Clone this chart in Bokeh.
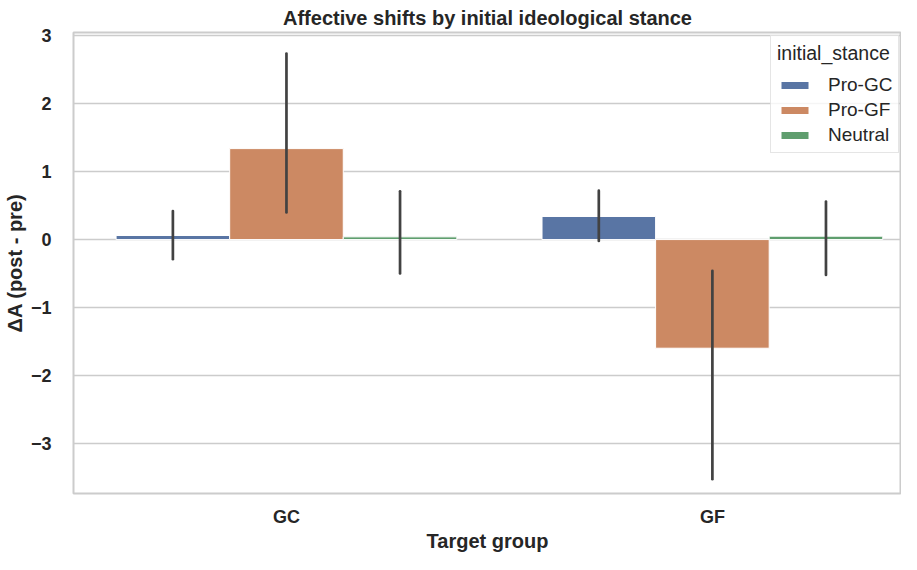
from bokeh.plotting import figure
from bokeh.models import ColumnDataSource, FixedTicker, Legend, LegendItem, Range1d
from bokeh.embed import file_html
from bokeh.resources import INLINE

groups = ["GC", "GF"]
stances = ["Pro-GC", "Pro-GF", "Neutral"]
colors = ["#5975a4", "#cc8963", "#5f9e6e"]

mean_pro_gc = [0.06, 0.34]
mean_pro_gf = [1.34, -1.60]
mean_neutral = [0.04, 0.05]

low_pro_gc = [-0.29, -0.02]
high_pro_gc = [0.42, 0.72]
low_pro_gf = [0.40, -3.53]
high_pro_gf = [2.74, -0.46]
low_neutral = [-0.50, -0.52]
high_neutral = [0.71, 0.56]

y_ticks = [-3, -2, -1, 0, 1, 2, 3]

means = [mean_pro_gc, mean_pro_gf, mean_neutral]
lows = [low_pro_gc, low_pro_gf, low_neutral]
highs = [high_pro_gc, high_pro_gf, high_neutral]

FONT = "Liberation Sans"

p = figure(width=901, height=554, output_backend="svg", toolbar_location=None,
           x_range=Range1d(-0.5, 1.444), y_range=Range1d(-3.74, 3.05),
           min_border_left=65, min_border_right=0, min_border_top=31, min_border_bottom=55)

p.title.text = "Affective shifts by initial ideological stance"
p.title.align = "center"
p.title.text_font = FONT
p.title.text_font_size = "20px"
p.title.text_font_style = "bold"
p.title.text_color = "#262626"
p.title.standoff = 8

bw = 0.8 / len(stances)
items = []
for j, st in enumerate(stances):
    xs = [i + (j - 1) * bw for i in range(len(groups))]
    src = ColumnDataSource(dict(x=xs, top=means[j], lo=lows[j], hi=highs[j]))
    r = p.vbar(x="x", top="top", bottom=0, width=bw, source=src,
               fill_color=colors[j], line_color="white", line_width=1)
    p.segment(x0="x", x1="x", y0="lo", y1="hi", source=src,
              line_color="#424242", line_width=2.7, line_cap="round")
    items.append(LegendItem(label=st, renderers=[r]))

legend = Legend(items=items, location=(697, 340))
legend.title = "initial_stance"
legend.title_text_font = FONT
legend.title_text_font_size = "19.5px"
legend.title_text_font_style = "normal"
legend.title_text_color = "#262626"
legend.title_standoff = 9
legend.label_text_font = FONT
legend.label_text_font_size = "19px"
legend.label_text_color = "#262626"
legend.glyph_width = 35
legend.glyph_height = 10
legend.label_standoff = 16
legend.label_height = 22
legend.spacing = 3
legend.padding = 6
legend.margin = 0
legend.border_line_color = "#cccccc"
legend.border_line_width = 1
legend.background_fill_alpha = 0.8
p.add_layout(legend)

p.outline_line_color = "#cccccc"
p.outline_line_width = 2

p.xgrid.visible = False
p.ygrid.grid_line_color = "#cccccc"
p.ygrid.grid_line_width = 1.3
p.ygrid.ticker = FixedTicker(ticks=y_ticks)

p.xaxis.ticker = FixedTicker(ticks=list(range(len(groups))))
p.xaxis.major_label_overrides = {i: g for i, g in enumerate(groups)}
p.yaxis.ticker = FixedTicker(ticks=y_ticks)
p.yaxis.major_label_overrides = {t: (str(t) if t >= 0 else "\u2212" + str(-t)) for t in y_ticks}

for ax in (p.xaxis[0], p.yaxis[0]):
    ax.axis_line_color = None
    ax.major_tick_line_color = None
    ax.minor_tick_line_color = None
    ax.major_label_text_font = FONT
    ax.major_label_text_font_size = "18px"
    ax.major_label_text_font_style = "bold"
    ax.major_label_text_color = "#262626"
    ax.axis_label_text_font = FONT
    ax.axis_label_text_font_size = "20px"
    ax.axis_label_text_font_style = "bold"
    ax.axis_label_text_color = "#262626"

p.xaxis.axis_label = "Target group"
p.yaxis.axis_label = "\u0394A (post - pre)"
p.xaxis.major_label_standoff = 7
p.xaxis.axis_label_standoff = 0
p.yaxis.major_label_standoff = 16
p.yaxis.axis_label_standoff = 2

open("out.html", "w").write(file_html(p, INLINE))
